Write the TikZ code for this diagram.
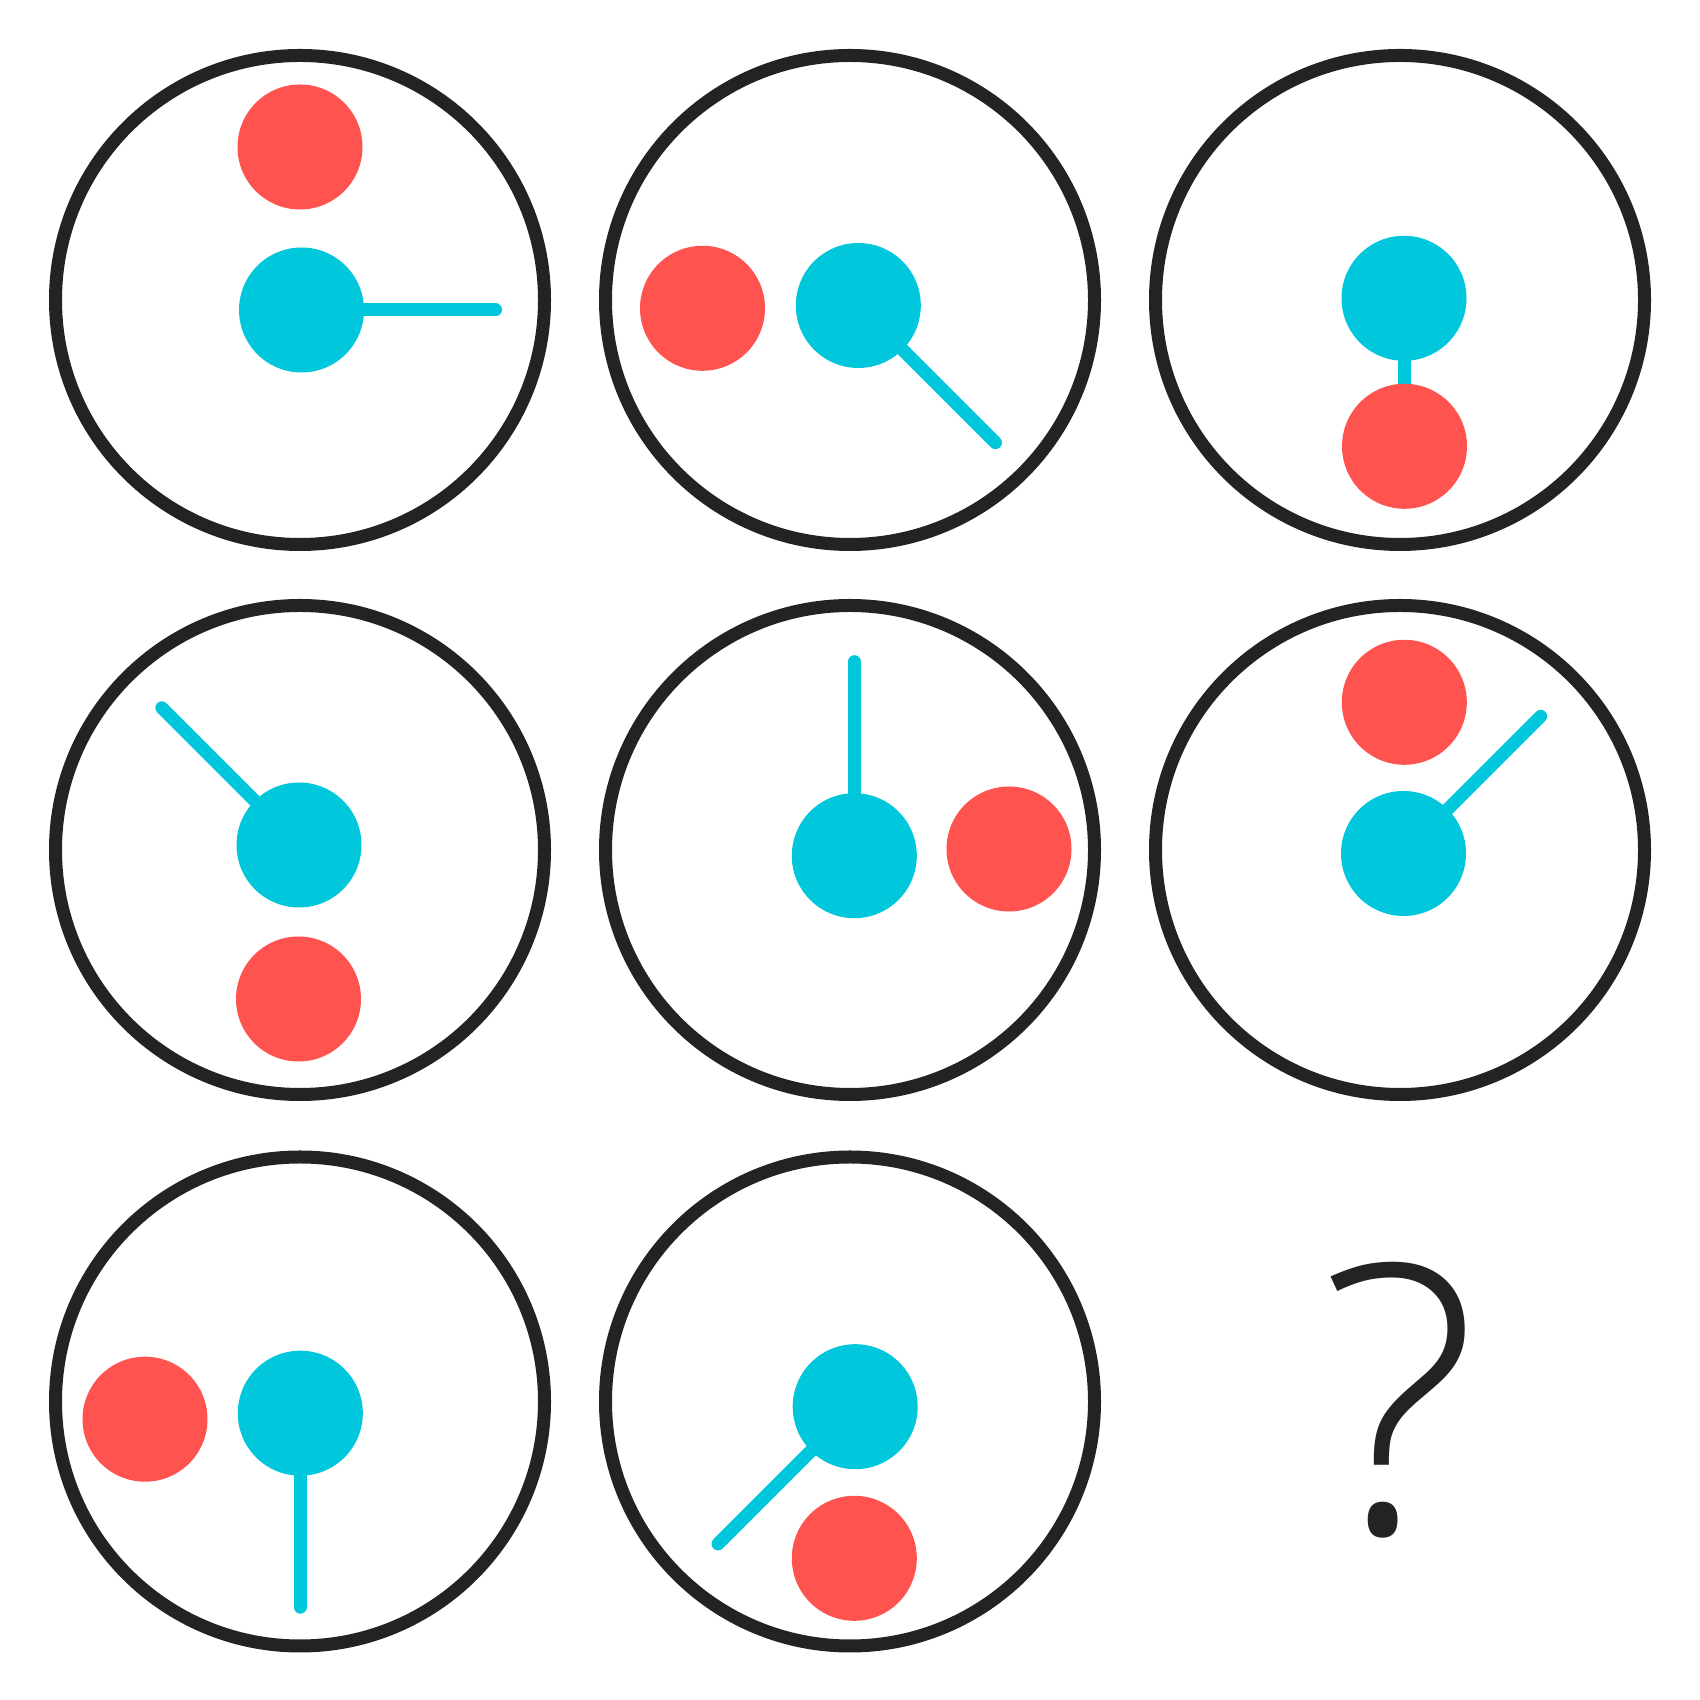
\documentclass[tikz,border=0pt]{standalone}
\usepackage{fontspec}
\usepackage{tikz}
\usetikzlibrary{calc, backgrounds}
\newfontfamily\qmarkfont{Open Sans}[UprightFont={* Light}]
\definecolor{ringdark}{RGB}{35,35,35}
\definecolor{dotred}{RGB}{255,83,80}
\definecolor{dotcyan}{RGB}{0,199,219}

\begin{document}
\begin{tikzpicture}[
  ring/.style={
    circle, draw=ringdark, line width=0.13cm,
    minimum size=4.89cm, inner sep=0pt
  },
  reddot/.style={circle, fill=dotred, minimum size=1.25cm, inner sep=0pt},
  cyandot/.style={circle, fill=dotcyan, minimum size=1.25cm, inner sep=0pt},
  stick/.style={line width=0.13cm, line cap=round, color=dotcyan},
  qmark/.style={font=\qmarkfont\fontsize{107}{107}\selectfont,
    text=ringdark, inner sep=0pt},
]
\useasboundingbox (0,0) rectangle (17,17);

% the eight rings
\node[ring] (cell1) at (3,14)       {};
\node[ring] (cell2) at (8.5,14)     {};
\node[ring] (cell3) at (14,14)      {};
\node[ring] (cell4) at (3,8.5)      {};
\node[ring] (cell5) at (8.5,8.5)    {};
\node[ring] (cell6) at (14,8.5)     {};
\node[ring] (cell7) at (3,2.985)    {};
\node[ring] (cell8) at (8.5,2.985)  {};

% dots in each ring
\node[reddot]  (r1) at ($(cell1)+(0,1.53)$)         {};
\node[cyandot] (c1) at ($(cell1)+(0.015,-0.10)$)    {};
\node[reddot]  (r2) at ($(cell2)+(-1.475,-0.083)$)  {};
\node[cyandot] (c2) at ($(cell2)+(0.083,-0.055)$)   {};
\node[cyandot] (c3) at ($(cell3)+(0.04,0.017)$)     {};
\node[reddot]  (r3) at ($(cell3)+(0.045,-1.463)$)   {};
\node[cyandot] (c4) at ($(cell4)+(-0.01,0.05)$)     {};
\node[reddot]  (r4) at ($(cell4)+(-0.015,-1.49)$)   {};
\node[cyandot] (c5) at ($(cell5)+(0.043,-0.057)$)   {};
\node[reddot]  (r5) at ($(cell5)+(1.59,0.01)$)      {};
\node[reddot]  (r6) at ($(cell6)+(0.043,1.477)$)    {};
\node[cyandot] (c6) at ($(cell6)+(0.035,-0.035)$)   {};
\node[reddot]  (r7) at ($(cell7)+(-1.55,-0.177)$)   {};
\node[cyandot] (c7) at ($(cell7)+(0.003,-0.117)$)   {};
\node[cyandot] (c8) at ($(cell8)+(0.052,-0.052)$)   {};
\node[reddot]  (r8) at ($(cell8)+(0.043,-1.568)$)   {};

% stick ends
\coordinate (e1) at ($(c1)+(0:1.94)$);
\coordinate (e2) at ($(c2)+(-45:1.94)$);
\coordinate (e3) at ($(c3)+(-90:1.94)$);
\coordinate (e4) at ($(c4)+(135:1.94)$);
\coordinate (e5) at ($(c5)+(90:1.94)$);
\coordinate (e6) at ($(c6)+(45:1.94)$);
\coordinate (e7) at ($(c7)+(-90:1.94)$);
\coordinate (e8) at ($(c8)+(-135:1.94)$);

\begin{scope}[on background layer]
  \draw[stick] (c1.center) -- (e1);
  \draw[stick] (c2.center) -- (e2);
  \draw[stick] (c3.center) -- (e3);
  \draw[stick] (c4.center) -- (e4);
  \draw[stick] (c5.center) -- (e5);
  \draw[stick] (c6.center) -- (e6);
  \draw[stick] (c7.center) -- (e7);
  \draw[stick] (c8.center) -- (e8);
\end{scope}

\node[qmark] (quest) at (14.0,3.0) {?};

\end{tikzpicture}
\end{document}
